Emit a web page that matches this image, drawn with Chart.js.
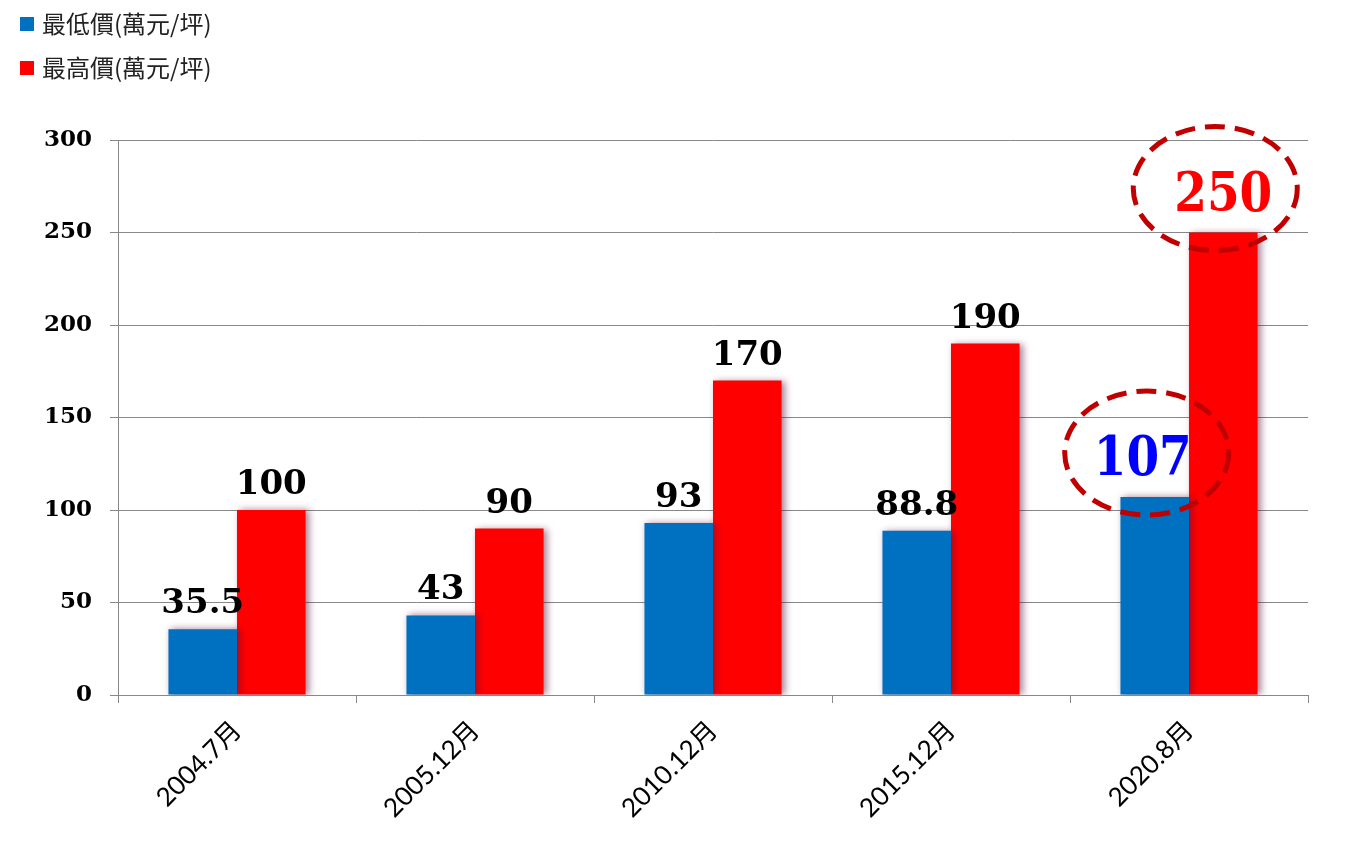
<!DOCTYPE html>
<html>
<head>
<meta charset="utf-8">
<script src="https://cdn.jsdelivr.net/npm/chart.js@4"></script>
<style>
  body { margin: 0; background: #fff; }
</style>
</head>
<body>
<canvas id="chart" width="1349" height="852"></canvas>
<script>
// data
const categories = ['2004.7月', '2005.12月', '2010.12月', '2015.12月', '2020.8月'];
const lowPrice = [35.5, 43, 93, 88.8, 107];
const highPrice = [100, 90, 170, 190, 250];
const seriesNames = ['最低價(萬元/坪)', '最高價(萬元/坪)'];
const yTicks = [0, 50, 100, 150, 200, 250, 300];
const highlightIndex = 4; // the circled category

const BLUE = '#0070C0';
const RED = '#FF0000';

// bar shadow
const shadowPlugin = {
  id: 'barShadow',
  beforeDatasetDraw(chart) {
    const ctx = chart.ctx;
    ctx.save();
    ctx.shadowColor = 'rgba(90, 20, 60, 0.55)';
    ctx.shadowBlur = 7;
    ctx.shadowOffsetX = 3;
    ctx.shadowOffsetY = 0;
  },
  afterDatasetDraw(chart) {
    chart.ctx.restore();
  }
};

// value labels + dashed circles on the highlighted category
const labelPlugin = {
  id: 'valueLabels',
  afterDatasetsDraw(chart) {
    const ctx = chart.ctx;
    ctx.save();
    ctx.textAlign = 'center';
    ctx.textBaseline = 'alphabetic';
    chart.data.datasets.forEach((ds, di) => {
      const meta = chart.getDatasetMeta(di);
      meta.data.forEach((bar, i) => {
        const txt = String(ds.data[i]);
        if (i === highlightIndex) {
          const tx = di === 0 ? bar.x - 12 : bar.x;
          // slightly taller glyphs, like the original
          ctx.save();
          ctx.translate(tx, bar.y - 22);
          ctx.scale(1, 1.15);
          ctx.font = 'bold 47px "DejaVu Serif"';
          ctx.fillStyle = di === 0 ? '#0000FF' : '#FF0000';
          ctx.fillText(txt, 0, 0);
          ctx.restore();

          ctx.beginPath();
          ctx.ellipse(bar.x - 8, bar.y - 44, 82, 62, 0, 0, Math.PI * 2);
          ctx.lineWidth = 5;
          ctx.strokeStyle = '#C00000';
          ctx.setLineDash([20, 10]);
          ctx.stroke();
          ctx.setLineDash([]);
        } else {
          ctx.font = 'bold 34px "DejaVu Serif"';
          ctx.fillStyle = '#000';
          ctx.fillText(txt, bar.x, bar.y - 16);
        }
      });
    });
    ctx.restore();
  }
};

// vertical legend top-left
const legendPlugin = {
  id: 'vLegend',
  afterDraw(chart) {
    const ctx = chart.ctx;
    ctx.save();
    ctx.font = '24px "Noto Sans CJK TC"';
    ctx.textBaseline = 'middle';
    ctx.textAlign = 'left';
    chart.data.datasets.forEach((ds, i) => {
      const cy = 24 + i * 44;
      ctx.fillStyle = ds.backgroundColor;
      ctx.fillRect(20, cy - 7, 14, 14);
      ctx.fillStyle = '#222';
      ctx.fillText(ds.label, 42, cy);
    });
    ctx.restore();
  }
};

new Chart(document.getElementById('chart'), {
  type: 'bar',
  data: {
    labels: categories,
    datasets: [
      { label: seriesNames[0], data: lowPrice, backgroundColor: BLUE },
      { label: seriesNames[1], data: highPrice, backgroundColor: RED }
    ]
  },
  options: {
    responsive: false,
    animation: false,
    layout: { padding: { top: 140, right: 41, left: 0, bottom: 0 } },
    plugins: {
      legend: { display: false },
      tooltip: { enabled: false }
    },
    datasets: {
      bar: { categoryPercentage: 0.576, barPercentage: 1.0 }
    },
    scales: {
      x: {
        grid: {
          display: true,
          offset: true,
          drawOnChartArea: false,
          color: '#888',
          tickLength: 8
        },
        border: { color: '#888' },
        ticks: {
          minRotation: 45,
          maxRotation: 45,
          color: '#000',
          font: { family: 'Lato, "Noto Sans CJK TC"', size: 26 },
          padding: 12
        },
        afterFit(scale) { scale.height = 157; }
      },
      y: {
        min: 0,
        max: 300,
        afterBuildTicks(scale) {
          scale.ticks = yTicks.map(v => ({ value: v }));
        },
        grid: { color: '#888', tickLength: 8 },
        border: { color: '#888' },
        ticks: {
          color: '#000',
          font: { family: '"DejaVu Serif"', size: 23, weight: 'bold' },
          padding: 18
        },
        afterFit(scale) { scale.width = 118; }
      }
    }
  },
  plugins: [shadowPlugin, labelPlugin, legendPlugin]
});
</script>
</body>
</html>
